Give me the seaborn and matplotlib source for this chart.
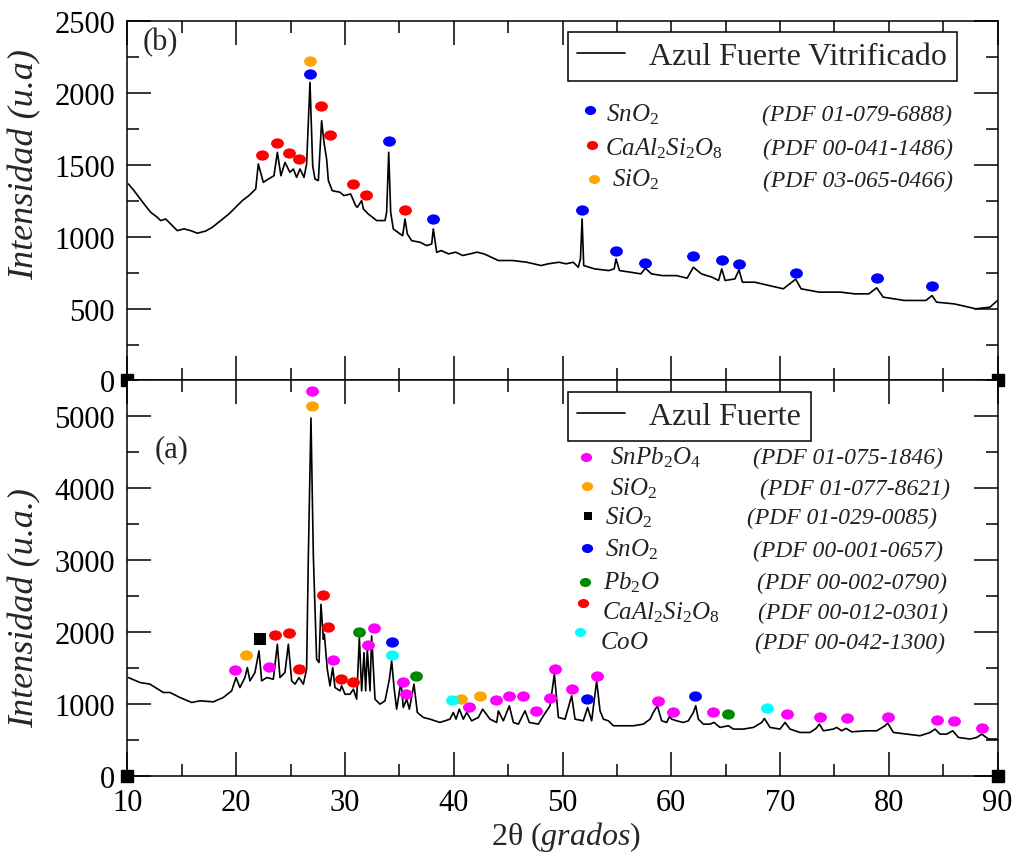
import matplotlib
matplotlib.use("Agg")
import matplotlib.pyplot as plt
import seaborn as sns
import pandas as pd
from matplotlib.ticker import MultipleLocator
from matplotlib.lines import Line2D
from matplotlib.markers import MarkerStyle
from matplotlib.transforms import Affine2D

# ---- (b) Azul Fuerte Vitrificado ----
tt_b = [10.08, 10.6, 11.06, 11.52, 12.13, 12.74, 13.05, 13.51, 14.12, 14.58, 15.2, 15.81,
        16.42, 17.19, 17.8, 18.57, 19.33, 19.95, 20.56, 21.17, 21.79,
        22.03, 22.49, 22.95, 23.47, 23.78, 24.11, 24.48, 24.94, 25.25, 25.55, 25.86,
        26.23, 26.47, 26.78, 27.03, 27.24, 27.55, 27.85, 28.07, 28.31, 28.47, 28.83, 29.54,
        29.9, 30.52, 30.98, 31.13, 31.53, 31.69, 32.14, 32.91, 33.68, 33.83, 34.02, 34.2,
        34.44, 35.06, 35.3, 35.52, 35.73, 36.13, 36.9, 37.51, 37.97, 38.12, 38.43,
        38.86, 39.52, 40.17, 40.83, 41.48, 42.14, 42.79, 43.45, 44.1, 45.41, 46.72, 48.03,
        48.69, 49.67, 50.32, 50.98, 51.45, 51.65, 51.8, 51.95, 52.94, 54.25, 54.75, 54.92,
        55.24, 56.22, 57.2, 57.62, 58.18, 59.17, 60.48, 61.46, 62.03, 62.77, 63.75, 64.35,
        64.64, 64.95, 65.85, 66.23, 66.54, 67.68, 68.99, 70.3, 71.44, 71.94, 73.58, 75.54,
        76.86, 78.17, 78.89, 79.48, 81.44, 83.41, 83.98, 84.39, 86.03, 88.0, 89.3, 90.0]
int_b = [1368, 1321, 1275, 1229, 1171, 1136, 1113, 1124, 1078, 1043, 1055, 1043,
         1025, 1040, 1066, 1113, 1159, 1206, 1252, 1287, 1333,
         1507, 1379, 1402, 1425, 1588, 1425, 1518, 1449, 1472, 1414, 1472,
         1414, 1507, 2075, 1495, 1402, 1391, 1808, 1657, 1541, 1391, 1321, 1310,
         1287, 1298, 1217, 1205, 1252, 1194, 1159, 1113, 1113, 1171, 1588, 1171,
         1055, 1020, 1008, 1124, 1020, 973, 962, 939, 950, 1055, 892,
         904, 881, 893, 870, 881, 893, 881, 858, 835, 835, 823, 800,
         812, 823, 812, 823, 788, 846, 1124, 800, 777, 765, 777, 846,
         765, 754, 742, 781, 742, 730, 730, 712, 788, 742, 719, 696,
         777, 696, 707, 770, 684, 684, 661, 638, 705, 638, 615, 615,
         603, 603, 645, 580, 557, 557, 591, 545, 533, 499, 510, 557]

b_sno2_x = [26.78, 34.02, 38.12, 51.76, 54.92, 57.62, 62.03, 64.64, 66.23, 71.44, 78.89, 83.98]
b_sno2_y = [2133, 1669, 1124, 1187, 900, 818, 869, 839, 809, 749, 712, 656]
b_caal_x = [22.34, 23.78, 24.85, 25.77, 27.82, 28.62, 30.7, 31.9, 35.52]
b_caal_y = [1572, 1651, 1581, 1542, 1912, 1709, 1366, 1294, 1187]
b_sio2_x = [26.78]
b_sio2_y = [2221]

# ---- (a) Azul Fuerte ----
tt_a = [10.08, 11.15, 12.07, 13.3, 13.91, 14.83, 15.9, 16.67, 17.89, 18.81, 19.58, 19.98,
        20.34, 20.8, 21.02, 21.26, 21.72, 22.09, 22.34, 22.8, 23.41, 23.78, 24.02, 24.48,
        24.79, 25.1, 25.4, 25.77, 26.17, 26.47, 26.63, 26.87, 27.09, 27.39, 27.61, 27.79,
        28.01, 28.1, 28.37, 28.62, 28.87, 29.08, 29.54, 29.69, 30.0, 30.46, 30.77, 31.07,
        31.32, 31.53, 31.75, 31.9, 32.05, 32.3, 32.45, 32.76, 33.22, 33.68, 34.08, 34.29,
        34.51, 34.75, 35.06, 35.15, 35.36, 35.67, 35.92, 36.34, 36.65, 37.2, 37.82, 38.73,
        39.65, 39.96, 40.21, 40.51, 40.88, 41.19, 41.65, 42.26, 42.66, 43.33, 43.95, 44.1,
        44.56, 45.11, 45.48, 45.94, 46.55, 46.95, 47.78, 48.24, 48.85, 49.25, 49.62, 50.23,
        50.84, 51.15, 51.91, 52.31, 52.68, 53.14, 53.45, 53.76, 54.22, 54.68, 55.6, 56.52,
        57.43, 58.05, 58.35, 58.72, 59.12, 59.58, 59.83, 60.04, 60.5, 61.11, 61.57, 62.03,
        62.25, 62.49, 62.95, 63.56, 63.93, 64.48, 65.25, 65.71, 66.63, 67.55, 68.32, 68.56,
        69.08, 70.0, 70.46, 70.92, 71.84, 72.76, 73.31, 73.62, 73.99, 74.91, 75.21, 75.67,
        76.07, 76.59, 77.97, 78.89, 79.66, 79.9, 80.42, 81.65, 82.87, 83.8, 84.25, 84.71,
        85.33, 85.88, 86.4, 87.47, 88.09, 88.55, 89.16, 89.93]
int_a = [1366, 1297, 1274, 1158, 1158, 1088, 1019, 1042, 1028, 1088, 1181, 1366,
         1227, 1366, 1505, 1320, 1436, 1737, 1320, 1366, 1343, 1829, 1366, 1436,
         1829, 1320, 1274, 1366, 1274, 1482, 3056, 4978, 3056, 1621, 1575, 2385,
         1899, 1968, 1482, 1250, 1505, 1227, 1181, 1250, 1134, 1134, 1204, 1065,
         1922, 1181, 1713, 1181, 1760, 1181, 1945, 1065, 996, 1042, 1343, 1598,
         1227, 926, 1227, 1297, 949, 1065, 926, 1274, 880, 811, 787, 741,
         787, 880, 787, 926, 787, 880, 764, 811, 926, 787, 741, 903,
         764, 973, 741, 718, 903, 741, 718, 834, 973, 1412, 811, 787,
         1112, 787, 764, 949, 764, 1320, 903, 787, 764, 695, 695, 695,
         718, 787, 880, 973, 764, 741, 824, 787, 764, 741, 764, 880,
         973, 787, 718, 718, 741, 672, 695, 649, 649, 672, 741, 797,
         672, 649, 741, 649, 602, 602, 658, 718, 625, 649, 672, 625,
         658, 611, 625, 625, 695, 732, 602, 579, 556, 602, 649, 579,
         579, 625, 533, 510, 533, 579, 510, 510]

a_snpb_x = [19.88, 23.01, 26.93, 28.87, 32.14, 32.67, 35.36, 35.61, 41.4, 43.89, 45.08, 46.4,
            47.56, 48.85, 49.31, 50.9, 53.2, 58.81, 60.19, 63.87, 70.61, 73.68, 76.13, 79.9,
            84.47, 86.03, 88.54]
a_snpb_y = [1468, 1519, 5348, 1607, 1820, 2061, 1311, 1135, 959, 1051, 1112, 1112,
            894, 1088, 1482, 1204, 1389, 1033, 880, 880, 857, 820, 797, 820,
            778, 764, 662]
a_sio2o_x = [20.9, 26.93, 40.63, 42.41]
a_sio2o_y = [1681, 5140, 1074, 1112]
a_sio2s_x = [22.18]
a_sio2s_y = [1908]
a_sno2_x = [34.29, 52.28, 62.18]
a_sno2_y = [1862, 1074, 1112]
a_pb2o_x = [31.32, 36.53, 65.25]
a_pb2o_y = [2005, 1389, 857]
a_caal_x = [23.56, 24.85, 25.77, 27.95, 28.47, 29.63, 30.7]
a_caal_y = [1954, 1991, 1491, 2510, 2075, 1352, 1311]
a_coo_x = [34.29, 39.81, 68.83]
a_coo_y = [1681, 1051, 936]

b_names = [r"$SnO_2$", r"$CaAl_2Si_2O_8$", r" $SiO_2$"]
b_pdf = ["(PDF 01-079-6888)", "(PDF 00-041-1486)", "(PDF 03-065-0466)"]
a_names = [r" $SnPb_2O_4$", r" $SiO_2$", r"$SiO_2$", r"$SnO_2$", r"$Pb_2O$",
           r"$CaAl_2Si_2O_8$", r"$CoO$"]
a_pdf = ["(PDF 01-075-1846)", "(PDF 01-077-8621)", "(PDF 01-029-0085)", "(PDF 00-001-0657)",
         "(PDF 00-002-0790)", "(PDF 00-012-0301)", "(PDF 00-042-1300)"]

sns.set_style("ticks")
plt.rcParams["font.family"] = ["Liberation Serif", "DejaVu Serif"]
plt.rcParams["mathtext.fontset"] = "custom"
plt.rcParams["mathtext.rm"] = "Liberation Serif"
plt.rcParams["mathtext.it"] = "Liberation Serif:italic"
plt.rcParams["mathtext.bf"] = "Liberation Serif:bold"

W, H = 1015, 854
fig = plt.figure(figsize=(W / 100, H / 100), dpi=100)
ax_b = fig.add_axes([0.1256, 0.5533, 0.8572, 0.4206])
ax_a = fig.add_axes([0.1256, 0.0905, 0.8572, 0.4628])

ellipse = MarkerStyle("o", transform=Affine2D().scale(1.25, 1.0))

C = {"mag": "#ff00ff", "ora": "#ffa500", "blk": "black", "blu": "#0000ff",
     "grn": "#008a00", "red": "#ff0000", "cya": "#00ffff"}

phases_b = [(b_sno2_x, b_sno2_y, C["blu"], "o"),
            (b_caal_x, b_caal_y, C["red"], "o"),
            (b_sio2_x, b_sio2_y, C["ora"], "o")]
phases_a = [(a_snpb_x, a_snpb_y, C["mag"], "o"),
            (a_sio2o_x, a_sio2o_y, C["ora"], "o"),
            (a_sio2s_x, a_sio2s_y, C["blk"], "s"),
            (a_sno2_x, a_sno2_y, C["blu"], "o"),
            (a_pb2o_x, a_pb2o_y, C["grn"], "o"),
            (a_caal_x, a_caal_y, C["red"], "o"),
            (a_coo_x, a_coo_y, C["cya"], "o")]

for ax, tt, inten, phases, ymax, major, minor in [
        (ax_b, tt_b, int_b, phases_b, 2500, 500, 250),
        (ax_a, tt_a, int_a, phases_a, 5500, 1000, 500)]:
    df = pd.DataFrame({"tt": tt, "I": inten})
    sns.lineplot(data=df, x="tt", y="I", ax=ax, color="black", lw=1.2,
                 sort=False, estimator=None)
    for xs, ys, col, mk in phases:
        m = ellipse if mk == "o" else "s"
        sns.scatterplot(x=xs, y=ys, ax=ax, color=col, marker=m,
                        s=55 if mk == "o" else 70, linewidth=0, zorder=4)
    ax.set_xlim(10, 90)
    ax.set_ylim(0, ymax)
    ax.xaxis.set_major_locator(MultipleLocator(10))
    ax.xaxis.set_minor_locator(MultipleLocator(5))
    ax.yaxis.set_major_locator(MultipleLocator(major))
    ax.yaxis.set_minor_locator(MultipleLocator(minor))
    ax.tick_params(which="both", direction="in", top=True, right=True,
                   width=1.1, labelsize=22, pad=9, colors="black")
    ax.tick_params(which="major", length=17.5)
    ax.tick_params(which="minor", length=8.5)
    for sp in ax.spines.values():
        sp.set_linewidth(1.1)
        sp.set_color("black")
    ax.set_xlabel("")
    ax.set_ylabel("")
    ax.plot([10, 90], [0, 0], "s", color="black", ms=8, clip_on=False, zorder=6)

ax_b.tick_params(labelbottom=False)
ax_b.set_yticks([0, 500, 1000, 1500, 2000, 2500])
ax_a.set_yticks([0, 1000, 2000, 3000, 4000, 5000])
ax_a.set_xticks([10, 20, 30, 40, 50, 60, 70, 80, 90])


def fx(px):
    return px / W


def fy(py):
    return 1 - py / H


# axis labels
fig.text(fx(25), fy(165), "Intensidad (u.a)", rotation=90, ha="center", va="center",
         fontsize=26, fontstyle="italic")
fig.text(fx(25), fy(608), "Intensidad (u.a.)", rotation=90, ha="center", va="center",
         fontsize=26, fontstyle="italic")
fig.text(fx(566), fy(837), "2θ $(grados)$", ha="center", va="center", fontsize=23)

# panel tags
fig.text(fx(143), fy(43), "(b)", ha="left", va="center", fontsize=22)
fig.text(fx(155), fy(450), "(a)", ha="left", va="center", fontsize=22)

# framed legends
for ax, lab, top in [(ax_b, "Azul Fuerte Vitrificado", 0.9694), (ax_a, "Azul Fuerte", 0.970)]:
    h = Line2D([], [], color="black", lw=1.2)
    leg = ax.legend([h], [lab], loc="upper left", bbox_to_anchor=(0.506, top),
                    borderaxespad=0, frameon=True, fancybox=False, edgecolor="black",
                    framealpha=1, fontsize=23, handlelength=1.5, handletextpad=0.75,
                    borderpad=0.3)
    leg.get_frame().set_linewidth(1.1)

# phase keys
b_rows = [(121, 110.7, 590, 606, 762), (155.3, 146, 592, 605, 763), (186.7, 180, 594, 606, 763)]
for (base, my, mx, nx, px), (xs, ys, col, mk), name, pdf in zip(b_rows, phases_b, b_names, b_pdf):
    fig.text(fx(nx), fy(base), name, ha="left", va="baseline", fontsize=18, color="#222222")
    fig.text(fx(px), fy(base), pdf, ha="left", va="baseline", fontsize=17,
             fontstyle="italic", color="#222222")
    fig.add_artist(Line2D([fx(mx)], [fy(my)], marker=ellipse, ms=6.5, color=col,
                          mew=0, transform=fig.transFigure))

a_rows = [(464, 458, 586, 604, 753), (495, 487, 587, 604, 760), (524, 517, 588, 605, 747),
          (556.7, 549, 587, 605, 753), (589.3, 583, 585, 603, 757), (619.3, 604, 583, 602, 758),
          (649.3, 633, 580, 600, 755)]
for (base, my, mx, nx, px), (xs, ys, col, mk), name, pdf in zip(a_rows, phases_a, a_names, a_pdf):
    fig.text(fx(nx), fy(base), name, ha="left", va="baseline", fontsize=18, color="#222222")
    fig.text(fx(px), fy(base), pdf, ha="left", va="baseline", fontsize=17,
             fontstyle="italic", color="#222222")
    m = ellipse if mk == "o" else "s"
    fig.add_artist(Line2D([fx(mx)], [fy(my)], marker=m, ms=6.5 if mk == "o" else 6,
                          color=col, mew=0, transform=fig.transFigure))

fig.savefig("out.png", dpi=100)
